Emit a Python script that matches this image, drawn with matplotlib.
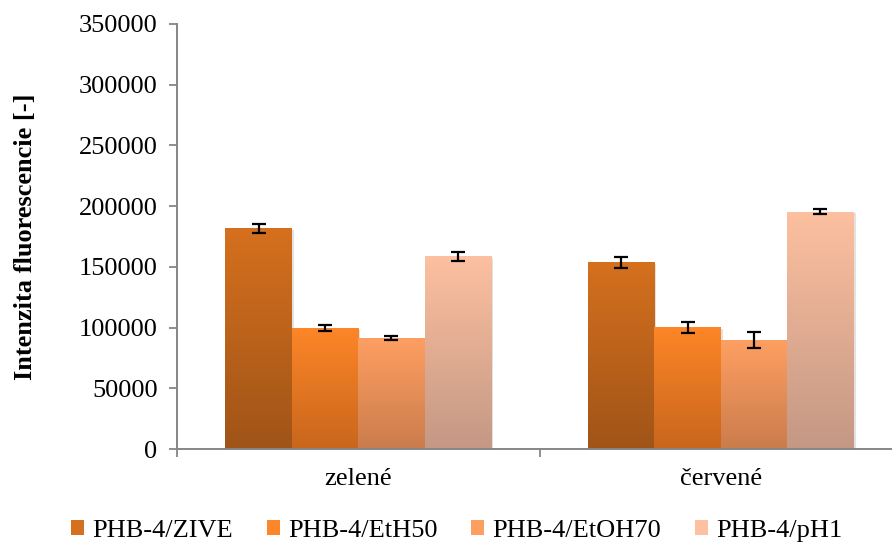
import numpy as np
import matplotlib.pyplot as plt
from matplotlib.colors import LinearSegmentedColormap
from matplotlib.patches import Patch

categories = ["zelené", "červené"]
series = ["PHB-4/ZIVE", "PHB-4/EtH50", "PHB-4/EtOH70", "PHB-4/pH1"]
values = [
    [181600, 153600],
    [99400, 100200],
    [91200, 89600],
    [158600, 195500],
]
errors = [
    [3400, 4900],
    [2600, 4800],
    [1500, 6700],
    [3500, 2300],
]
top_colors = ["#d5701e", "#fd8628", "#fe9f62", "#fdc0a0"]
bottom_colors = ["#a05418", "#c8661c", "#cb7c4c", "#c49884"]

plt.rcParams["font.family"] = ["Liberation Serif", "DejaVu Serif"]

fig = plt.figure(figsize=(8.92, 5.44), dpi=100)
ax = fig.add_axes([177 / 892, 95 / 544, 725 / 892, 425 / 544])

x = np.arange(len(categories))
w = 0.1834
grad = np.linspace(0, 1, 256).reshape(-1, 1)

for i, name in enumerate(series):
    pos = x + (i - 1.5) * w
    # soft shadow
    ax.bar(pos + 0.006, values[i], width=w, bottom=-1200, color="#d0d0d0",
           alpha=0.6, zorder=1, linewidth=0)
    bars = ax.bar(pos, values[i], width=w, color="none", linewidth=0, zorder=2)
    cmap = LinearSegmentedColormap.from_list(name, [bottom_colors[i], top_colors[i]])
    for b in bars:
        x0, y0 = b.get_x(), b.get_y()
        im = ax.imshow(grad, cmap=cmap, origin="lower", aspect="auto",
                       extent=[x0, x0 + b.get_width(), y0, y0 + b.get_height()],
                       zorder=2)
        im.set_clip_path(b)
    ax.errorbar(pos, values[i], yerr=errors[i], fmt="none", ecolor="black",
                elinewidth=1.6, capsize=5, capthick=1.6, zorder=4)

ax.set_xlim(-0.5, 1.5)
ax.set_ylim(0, 350000)
ax.set_yticks(np.arange(0, 350001, 50000))
ax.set_xticks(x)
ax.set_xticklabels(categories, fontsize=19)
ax.set_xticks([-0.5, 0.5, 1.5], minor=True)
ax.tick_params(axis="x", which="major", length=0, pad=14)
ax.tick_params(axis="x", which="minor", length=6, width=1.3, color="#868686")
ax.tick_params(axis="y", length=6, width=1.3, color="#868686", labelsize=19, pad=8)

for s in ["top", "right"]:
    ax.spines[s].set_visible(False)
for s in ["left", "bottom"]:
    ax.spines[s].set_color("#868686")
    ax.spines[s].set_linewidth(1.4)
    ax.spines[s].set_zorder(5)

ax.set_ylabel("Intenzita fluorescencie [-]", fontsize=19, fontweight="bold", labelpad=30)

handles = [Patch(facecolor=top_colors[i], edgecolor="none", label=series[i])
           for i in range(len(series))]
fig.legend(handles=handles, loc="center", bbox_to_anchor=(0.512, 0.024), ncol=4,
           frameon=False, fontsize=19, handlelength=0.5, handleheight=0.5,
           handletextpad=0.3, columnspacing=1.28)

fig.savefig("out.png", dpi=100)
